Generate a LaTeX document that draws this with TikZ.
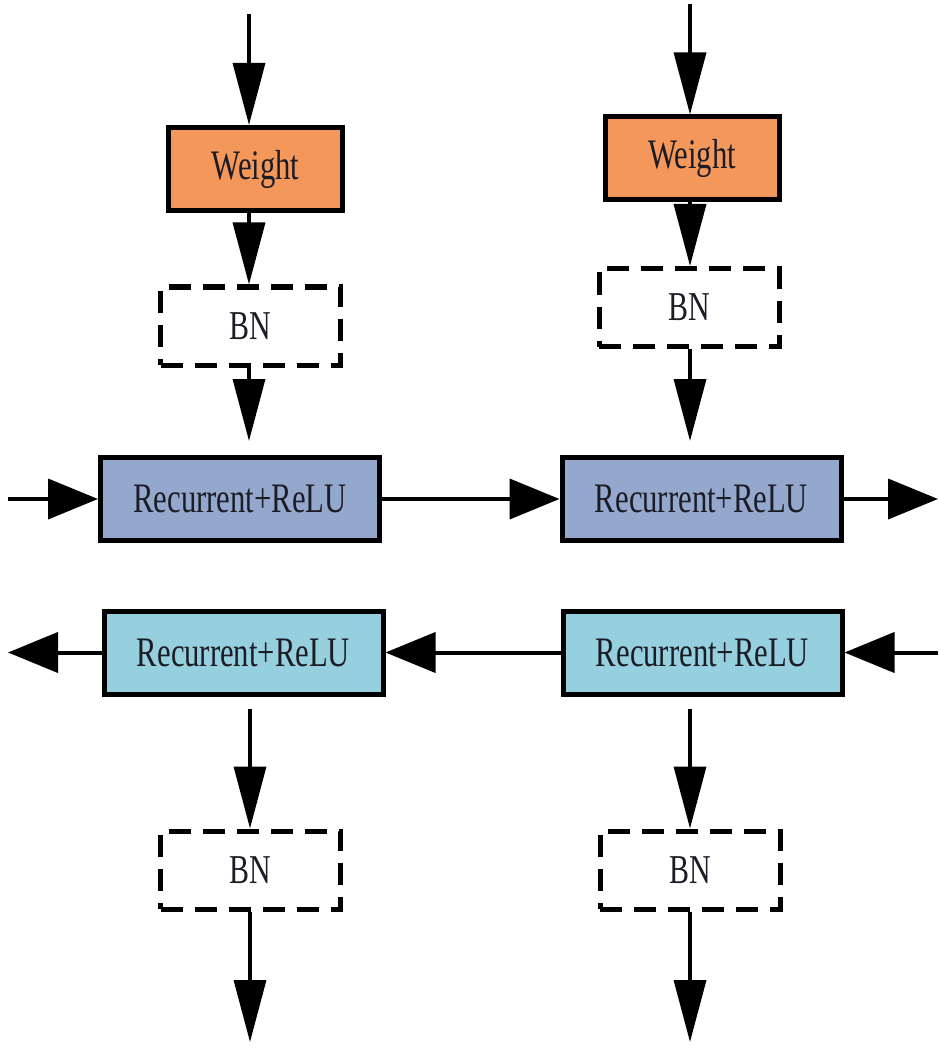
\documentclass[tikz,border=0pt]{standalone}
\usepackage{fontspec}
\setmainfont{Liberation Serif}
\newfontfamily\labelfont{Liberation Serif}[FakeStretch=0.73]
\usetikzlibrary{arrows.meta}

\definecolor{weightfill}{HTML}{F4975A}
\definecolor{fwdfill}{HTML}{93A8CC}
\definecolor{bwdfill}{HTML}{96CFDD}
\definecolor{inktext}{HTML}{1C1C26}

\tikzset{
  x=1pt, y=-1pt,
  block/.style={draw=black, line width=5pt, text=inktext,
    font=\labelfont\fontsize{42}{42}\selectfont, inner sep=0pt},
  weightbox/.style={block, fill=weightfill, minimum width=174pt, minimum height=83pt},
  recbox/.style={block, minimum width=279pt, minimum height=83pt},
  bnbox/.style={draw=black, line width=5pt, dash pattern=on 22pt off 12pt,
    text=inktext, font=\labelfont\fontsize{41}{41}\selectfont, inner sep=0pt,
    minimum width=180pt, minimum height=78pt},
  varrow/.style={line width=3.5pt,
    -{Triangle[length=62pt, width=32pt]}},
  harrow/.style={line width=4pt,
    -{Triangle[length=50pt, width=40pt]}},
}

\begin{document}
\begin{tikzpicture}
  \useasboundingbox (0,0) rectangle (938,1048);

  % left column, input side
  \node[weightbox] (w1) at (255.5,169) {Weight};
  \node[bnbox] (bn1) at (250.5,326) {BN};
  % right column, input side
  \node[weightbox] (w2) at (692,158.5) {Weight};
  \node[bnbox] (bn2) at (689,307.5) {BN};

  % forward recurrent layer
  \node[recbox, fill=fwdfill] (r1) at (240,499) {Recurrent+ReLU};
  \node[recbox, fill=fwdfill] (r2) at (701.5,499) {Recurrent+ReLU};
  % backward recurrent layer
  \node[recbox, fill=bwdfill] (r3) at (243.5,652.5) {Recurrent+ReLU};
  \node[recbox, fill=bwdfill] (r4) at (702.5,652.5) {Recurrent+ReLU};

  % output side normalisation
  \node[bnbox] (bn3) at (250.5,870) {BN};
  \node[bnbox] (bn4) at (690,870) {BN};

  % free ends
  \coordinate (inL) at (249,14);
  \coordinate (inR) at (690,4);
  \coordinate (fwdIn) at (8,499);
  \coordinate (fwdOut) at (938,499);
  \coordinate (bwdIn) at (938,652.5);
  \coordinate (bwdOut) at (8,652.5);
  \coordinate (outL) at (250,1042);
  \coordinate (outR) at (690,1042);

  % left column, vertical flow
  \draw[varrow] (inL) -- (inL |- w1.north);
  \draw[varrow] (inL |- w1.south) -- (inL |- bn1.north);
  \draw[varrow, shorten >=14pt] (inL |- bn1.south) -- (inL |- r1.north);
  % right column, vertical flow
  \draw[varrow] (inR) -- (inR |- w2.north);
  \draw[varrow] (inR |- w2.south) -- (inR |- bn2.north);
  \draw[varrow, shorten >=14pt] (inR |- bn2.south) -- (inR |- r2.north);

  % forward direction
  \draw[harrow] (fwdIn) -- (r1.west);
  \draw[harrow] (r1.east) -- (r2.west);
  \draw[harrow] (r2.east) -- (fwdOut);
  % backward direction
  \draw[harrow] (bwdIn) -- (r4.east);
  \draw[harrow] (r4.west) -- (r3.east);
  \draw[harrow] (r3.west) -- (bwdOut);

  % outputs
  \draw[varrow, shorten <=12pt] (outL |- r3.south) -- (outL |- bn3.north);
  \draw[varrow] (outL |- bn3.south) -- (outL);
  \draw[varrow, shorten <=12pt] (outR |- r4.south) -- (outR |- bn4.north);
  \draw[varrow] (outR |- bn4.south) -- (outR);
\end{tikzpicture}
\end{document}
